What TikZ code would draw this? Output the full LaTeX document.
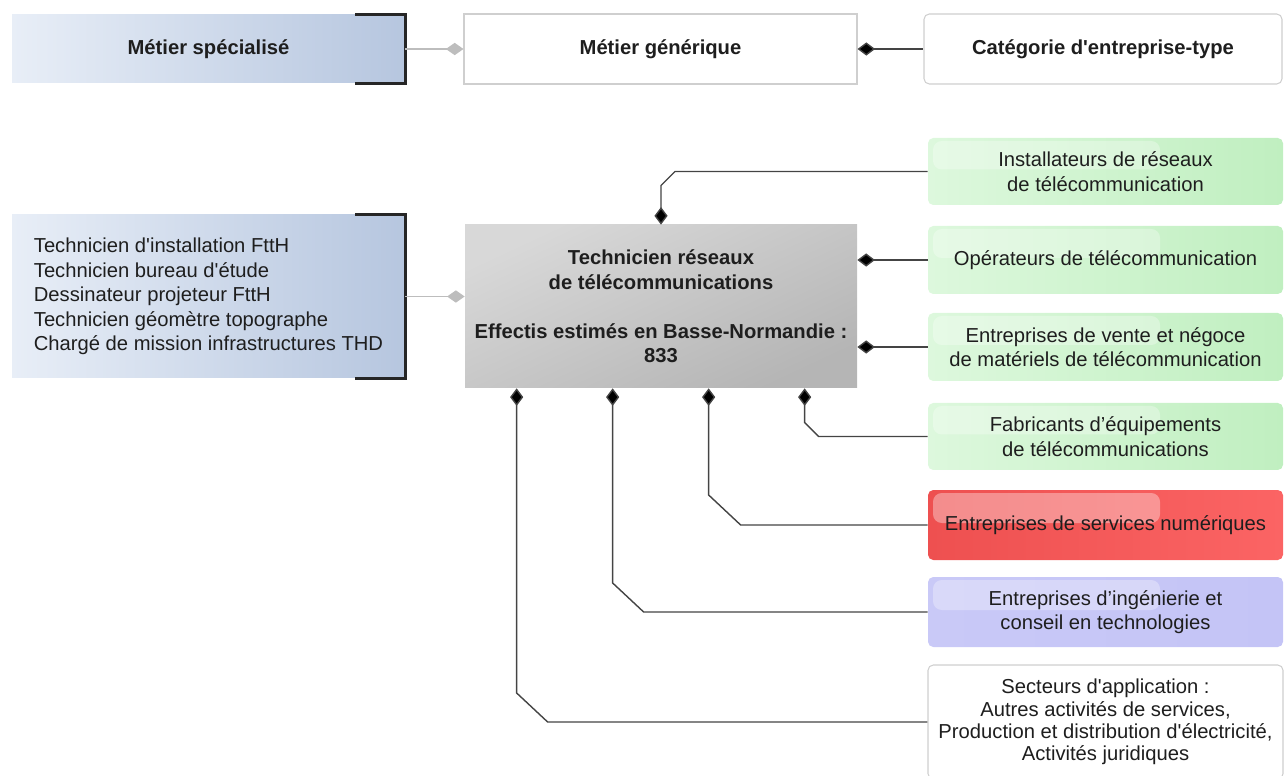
\documentclass[tikz,border=0pt]{standalone}
\usepackage{fontspec}
\setmainfont{Liberation Sans}[Ligatures=TeXOff]
\usetikzlibrary{arrows.meta,calc}
\newlength{\pxu}
\setlength{\pxu}{0.02cm}
\definecolor{txt}{HTML}{1E1E1E}
\definecolor{blueL}{HTML}{E8EEF7}
\definecolor{blueR}{HTML}{B6C6DF}
\definecolor{greenL}{HTML}{DDF8DD}
\definecolor{greenR}{HTML}{C0EFC0}
\definecolor{redL}{HTML}{EE5050}
\definecolor{redR}{HTML}{FB6464}
\definecolor{purL}{HTML}{C9C9F7}
\definecolor{purR}{HTML}{C4C4F6}
\definecolor{greyT}{HTML}{D8D8D8}
\definecolor{greyB}{HTML}{B5B5B5}
\definecolor{lineC}{HTML}{444444}
\definecolor{lgrey}{HTML}{BDBDBD}
\definecolor{edgeC}{HTML}{CFCFCF}
\begin{document}
\begin{tikzpicture}[x=0.02cm,y=-0.02cm,
  box/.style={rectangle,inner sep=0pt,align=center,text=txt,
    font=\fontsize{11.5}{14}\selectfont},
  bluebox/.style={box,left color=blueL,right color=blueR},
  whitebox/.style={box,fill=white,draw=edgeC,line width=0.6pt},
  gloss/.style={path picture={\fill[white,opacity=#1,rounded corners=5pt]
      ($(path picture bounding box.north west)+(5,3)$) rectangle ($(path picture bounding box.west)+(232,-2)$);}},
  gloss/.default=0.3,
  rightbox/.style={box,minimum width=355\pxu,rounded corners=3pt,gloss},
  greenbox/.style={rightbox,left color=greenL,right color=greenR},
  bracket/.style={draw=black!85,line width=1.4pt},
  blk/.style={draw=lineC,line width=0.8pt,{Diamond[length=10pt,width=7.5pt,fill=black]}-},
  gry/.style={draw=lgrey,line width=0.8pt,-{Diamond[length=10pt,width=7pt,fill=lgrey]}}
]
\useasboundingbox (0,0) rectangle (1284,776);
\clip (0,0) rectangle (1284,776);

% top row
\node[bluebox,minimum width=393\pxu,minimum height=68\pxu] (spec) at (208.5,49) {\bfseries Métier spécialisé};
\draw[bracket] ($(spec.north east)+(-50,0)$) -- (spec.north east) -- (spec.south east) -- ++(-50,0);
\node[whitebox,minimum width=393\pxu,minimum height=70\pxu] (gen) at (660.5,49) {\bfseries Métier générique};
\node[whitebox,rounded corners=3pt,minimum width=358\pxu,minimum height=70\pxu] (cat) at (1103,49) {\bfseries Catégorie d'entreprise-type};
\draw[gry] (spec.east) -- (gen.west);
\draw[blk] (gen.east) -- (cat.west);

% left list
\node[bluebox,minimum width=393\pxu,minimum height=163\pxu,align=left] (list) at (208.5,296.5)
  {Technicien d'installation FttH\\Technicien bureau d'étude\\Dessinateur projeteur FttH\\Technicien géomètre topographe\\Chargé de mission infrastructures THD};
\draw[bracket] ($(list.north east)+(-50,0)$) -- (list.north east) -- (list.south east) -- ++(-50,0);

% central
\node[box,shading=axis,top color=greyT,bottom color=greyB,shading angle=25,minimum width=392\pxu,minimum height=163\pxu] (cen) at (661,306.5)
  {\bfseries Technicien réseaux\\\bfseries de télécommunications\\[14pt]\bfseries Effectis estimés en Basse-Normandie :\\\bfseries 833};
\draw[gry] (list.east) -- (list.east -| cen.west);

% right column
\node[greenbox,minimum height=67\pxu] (g1) at (1105.5,171.5) {Installateurs de réseaux\\de télécommunication};
\node[greenbox,minimum height=68\pxu] (g2) at (1105.5,260) {Opérateurs de télécommunication};
\node[greenbox,minimum height=68\pxu] (g3) at (1105.5,347) {Entreprises de vente et négoce\\de matériels de télécommunication};
\node[greenbox,minimum height=67\pxu] (g4) at (1105.5,436.5) {Fabricants d’équipements\\de télécommunications};
\node[rightbox,left color=redL,right color=redR,minimum height=70\pxu,gloss=0.35] (esn) at (1105.5,525) {Entreprises de services numériques};
\node[rightbox,left color=purL,right color=purR,minimum height=70\pxu] (ing) at (1105.5,612) {Entreprises d’ingénierie et\\conseil en technologies};
\node[whitebox,rounded corners=3pt,minimum width=355\pxu,minimum height=114\pxu,font=\fontsize{11.5}{12.7}\selectfont] (sect) at (1105.5,722)
  {Secteurs d'application :\\Autres activités de services,\\Production et distribution d'électricité,\\Activités juridiques};

% connectors
\draw[blk] (cen.north) -- ($(cen.north |- g1.west)+(0,14)$) -- ($(cen.north |- g1.west)+(14,0)$) -- (g1.west);
\draw[blk] (cen.east |- g2.west) -- (g2.west);
\draw[blk] (cen.east |- g3.west) -- (g3.west);
\coordinate (b4) at ($(cen.south west)+(340,0)$);
\coordinate (b3) at ($(cen.south west)+(244,0)$);
\coordinate (b2) at ($(cen.south west)+(148,0)$);
\coordinate (b1) at ($(cen.south west)+(52,0)$);
\draw[blk] (b4) -- ($(b4 |- g4.west)+(0,-14)$) -- ($(b4 |- g4.west)+(14,0)$) -- (g4.west);
\draw[blk] (b3) -- ($(b3 |- esn.west)+(0,-30)$) -- ($(b3 |- esn.west)+(32,0)$) -- (esn.west);
\draw[blk] (b2) -- ($(b2 |- ing.west)+(0,-29)$) -- ($(b2 |- ing.west)+(31,0)$) -- (ing.west);
\draw[blk] (b1) -- ($(b1 |- sect.west)+(0,-29)$) -- ($(b1 |- sect.west)+(31,0)$) -- (sect.west);
\end{tikzpicture}
\end{document}
